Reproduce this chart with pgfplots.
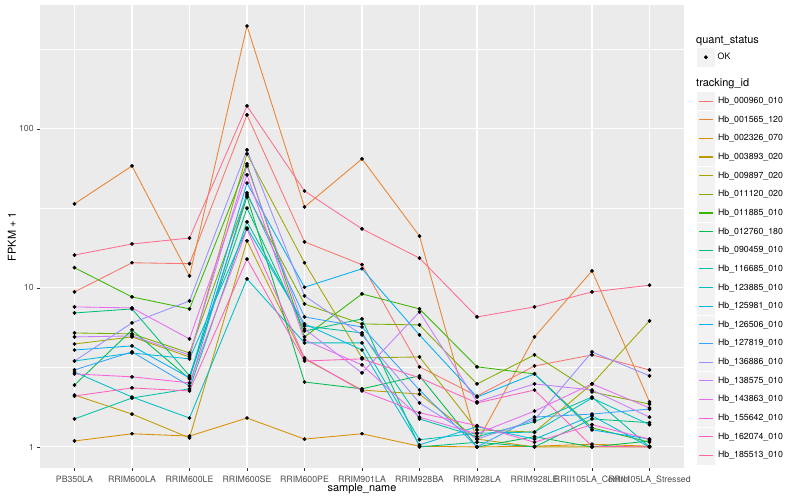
\documentclass[border=0pt]{standalone}
\usepackage{fontspec}
\setmainfont{TeX Gyre Heros}
\usepackage{pgfplots}
\usepackage{pgfplotstable}
\pgfplotsset{compat=1.18}

\definecolor{c1}{HTML}{F8766D}
\definecolor{c2}{HTML}{EA8331}
\definecolor{c3}{HTML}{D89000}
\definecolor{c4}{HTML}{C09B00}
\definecolor{c5}{HTML}{A3A500}
\definecolor{c6}{HTML}{7CAE00}
\definecolor{c7}{HTML}{39B600}
\definecolor{c8}{HTML}{00BB4E}
\definecolor{c9}{HTML}{00BF7D}
\definecolor{c10}{HTML}{00C1A3}
\definecolor{c11}{HTML}{00BFC4}
\definecolor{c12}{HTML}{00BAE0}
\definecolor{c13}{HTML}{00B0F6}
\definecolor{c14}{HTML}{35A2FF}
\definecolor{c15}{HTML}{9590FF}
\definecolor{c16}{HTML}{C77CFF}
\definecolor{c17}{HTML}{E76BF3}
\definecolor{c18}{HTML}{FA62DB}
\definecolor{c19}{HTML}{FF62BC}
\definecolor{c20}{HTML}{FF6C91}
\definecolor{panelbg}{HTML}{EBEBEB}
\definecolor{keybg}{HTML}{F2F2F2}
\definecolor{grey30}{HTML}{4D4D4D}
\definecolor{grey20}{HTML}{333333}

% FPKM + 1 per sample (rows) and tracking_id (columns s1..s20)
\pgfplotstableread{
x  s1    s2    s3   s4   s5   s6   s7   s8   s9   s10  s11  s12  s13  s14  s15  s16  s17  s18  s19  s20
0  9.44  33.8  1.09 2.12 4.44 5.21 13.4 2.45 6.96 1.50 2.96 3.47 4.07 3.05 3.47 4.92 7.60 2.88 2.09 16.1
1  14.4  58.5  1.21 1.61 4.92 5.14 8.78 5.44 7.38 2.03 2.06 3.90 4.32 3.96 6.03 4.99 7.49 2.76 2.35 18.9
2  14.2  11.9  1.17 1.14 3.68 3.90 7.38 2.68 2.80 2.32 1.52 3.58 2.72 2.42 8.28 3.79 4.78 2.53 2.25 20.6
3  122.5 444   1.52 19.8 69.6 38.5 60.3 37.4 31.8 26.0 11.4 23.8 45.7 39.6 73.8 58.5 51.4 23.5 15.2 139.5
4  19.5  32.3  1.12 3.58 14.4 7.93 4.92 2.56 5.36 5.77 4.51 5.94 10.1 6.57 8.91 5.52 4.71 3.63 3.47 40.7
5  14.0  64.8  1.21 2.28 3.63 5.94 9.17 2.32 6.38 5.21 4.51 4.07 13.2 5.68 5.06 2.92 3.28 2.25 3.58 23.5
6  3.19  21.2  1.01 2.15 3.68 5.85 7.38 2.80 1.00 1.50 1.11 1.03 5.06 2.28 1.89 7.07 1.54 1.64 2.72 15.4
7  2.09  1.07  1.00 1.12 1.28 2.49 3.19 1.00 1.07 1.16 1.22 1.34 2.06 1.00 1.12 1.92 1.21 1.36 1.89 6.57
8  3.23  4.92  1.01 1.00 1.24 3.79 2.88 1.16 1.00 1.44 1.24 1.12 2.88 1.54 1.48 2.49 1.68 1.07 2.28 7.60
9  3.79  12.8  1.04 1.00 2.49 2.22 1.32 1.00 1.50 2.06 2.03 1.57 1.28 1.61 3.96 2.28 2.49 1.38 1.01 9.44
10 3.05  1.92  1.01 1.00 6.20 1.86 1.07 1.09 1.42 1.00 1.38 1.00 1.12 1.73 2.80 1.54 1.76 1.12 1.00 10.4
}\fpkm

\pgfplotsset{
  keylegend/.style={
    legend style={draw=none, fill=none, anchor=north west,
      inner sep=0pt, outer sep=0pt, row sep=0.5bp, column sep=3bp,
      font=\fontsize{8.8}{10}\selectfont, nodes={inner sep=0pt},
      cells={anchor=west}},
  },
}

\begin{document}
\begin{tikzpicture}
\begin{axis}[
  name=main,
  scale only axis, width=644bp, height=463bp,
  ymode=log, ymin=0.737, ymax=602,
  xmin=-0.6, xmax=10.6,
  xtick={0,...,10},
  xticklabels={PB350LA,RRIM600LA,RRIM600LE,RRIM600SE,RRIM600PE,RRIM901LA,RRIM928BA,RRIM928LA,RRIM928LE,RRII105LA\_Control,RRII105LA\_Stressed},
  ytick={1,10,100}, yticklabels={1,10,100},
  minor ytick={3.1623,31.623,316.23},
  grid=both,
  major grid style={white, line width=1.07bp},
  minor grid style={white, line width=0.53bp},
  axis background/.style={fill=panelbg},
  axis line style={draw=none},
  tick align=outside, xtick pos=bottom, ytick pos=left,
  major tick length=2.75bp, minor tick length=0pt,
  tick style={grey20, line width=0.53bp},
  ticklabel style={font=\fontsize{8.8}{10}\selectfont, text=grey30},
  xticklabel style={yshift=-1.5bp},
  xlabel={sample\_name}, ylabel={FPKM + 1},
  label style={font=\fontsize{11}{13}\selectfont},
  xlabel style={at={(axis description cs:0.5,-0.0454)}, anchor=center},
  ylabel style={at={(axis description cs:-0.0435,0.5)}, anchor=center},
  keylegend,
  legend style={at={(1.0202,0.8121)}},
  legend image code/.code={
    \fill[keybg] (0bp,-8.65bp) rectangle (17.3bp,8.65bp);
    \draw[#1, line width=1.07bp] (1.7bp,0bp) -- (15.6bp,0bp);
  },
]
\pgfplotsinvokeforeach{1,...,20}{
  \addplot[c#1, line width=0.85bp, no marks] table[x=x, y=s#1] {\fpkm};
}
\pgfplotsinvokeforeach{1,...,20}{
  \addplot[only marks, forget plot, mark=*, mark size=1.7bp, black] table[x=x, y=s#1] {\fpkm};
}
\legend{Hb\_000960\_010,Hb\_001565\_120,Hb\_002326\_070,Hb\_003893\_020,Hb\_009897\_020,Hb\_011120\_020,Hb\_011885\_010,Hb\_012760\_180,Hb\_090459\_010,Hb\_116685\_010,Hb\_123885\_010,Hb\_125981\_010,Hb\_126506\_010,Hb\_127819\_010,Hb\_136886\_010,Hb\_138575\_010,Hb\_143863\_010,Hb\_155642\_010,Hb\_162074\_010,Hb\_185513\_010}
\end{axis}

\begin{axis}[
  at={(main.south west)}, anchor=south west,
  scale only axis, width=644bp, height=463bp,
  hide axis, xmin=0, xmax=1, ymin=0, ymax=1,
  keylegend,
  legend style={at={(1.0202,0.9064)}},
  legend image code/.code={
    \fill[keybg] (0bp,-8.65bp) rectangle (17.3bp,8.65bp);
    \fill[black] (8.65bp,0bp) circle (1.7bp);
  },
]
\addlegendimage{black}
\addlegendentry{OK}
\end{axis}

\node[anchor=west, inner sep=0pt, font=\fontsize{11}{13}\selectfont] at ([shift={(656bp,427bp)}]main.south west) {quant\_status};
\node[anchor=west, inner sep=0pt, font=\fontsize{11}{13}\selectfont] at ([shift={(656bp,384bp)}]main.south west) {tracking\_id};

\path ([shift={(-40bp,-32bp)}]main.south west) rectangle ++(800bp,500bp);
\end{tikzpicture}
\end{document}
